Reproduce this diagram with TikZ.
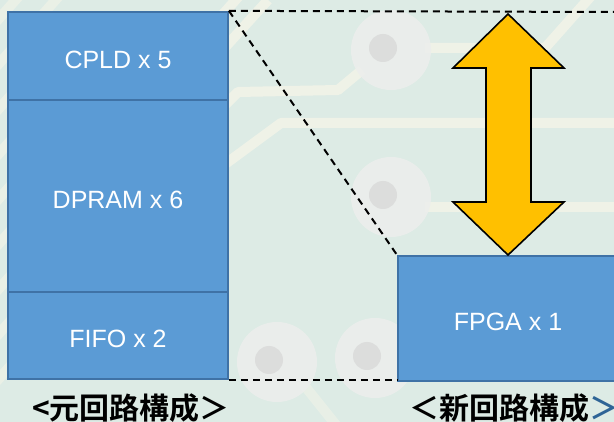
\documentclass[tikz,border=0pt]{standalone}
\usepackage{fontspec}
\setmainfont{Liberation Sans}
\newfontfamily\cjk{Noto Sans CJK JP}[BoldFont={Noto Sans CJK JP Bold}]
\definecolor{bg}{HTML}{DDEBE5}
\definecolor{trace}{HTML}{F3F4E8}
\definecolor{padc}{HTML}{ECEEEC}
\definecolor{holec}{HTML}{DCDDDC}
\definecolor{boxfill}{HTML}{5B9BD5}
\definecolor{boxline}{HTML}{3F72A6}
\definecolor{arrowc}{HTML}{FFC000}
\definecolor{bluegt}{HTML}{2E6496}
\tikzset{
  chip/.style={draw=boxline, line width=1.8pt, fill=boxfill, text=white,
    font=\fontsize{25}{28}\selectfont, inner sep=0pt, minimum width=220pt,
    text height=25pt, text depth=0pt},
  trc/.style={draw=trace, line width=10pt, line join=round, opacity=0.85},
  pad/.style={fill=padc, opacity=0.9},
  hole/.style={fill=holec},
  guide/.style={draw=black, line width=2pt, dash pattern=on 7pt off 5pt},
  lbl/.style={font=\cjk\bfseries\fontsize{30}{32}\selectfont, inner sep=0pt}
}
\begin{document}
\begin{tikzpicture}[x=1pt,y=-1pt]
\useasboundingbox (0,0) rectangle (614,422);
\begin{scope}
\clip (0,0) rectangle (614,422);
\fill[bg] (0,0) rectangle (614,422);
% PCB traces
\foreach \o in {0,45,90,135,180,225,270,315,360}
  \draw[trc, opacity=0.6] (-20,\o+40) -- (60,\o-50);
\draw[trc] (200,40) -- (240,-5);
\draw[trc] (200,75) -- (268,0);
\draw[trc] (190,190) -- (281,123) -- (620,123);
\draw[trc] (190,140) -- (238,92) -- (338,90) -- (362,70);
\draw[trc] (425,48) -- (545,48) -- (592,-5);
\draw[trc] (425,207) -- (620,207);
\draw[trc, opacity=0.5] (300,380) -- (340,430);
% pads
\foreach \px/\py in {391/50, 391/197, 277/362, 375/358}{
  \fill[pad] (\px,\py) circle (40);
  \fill[hole] (\px-8,\py-2) circle (14);
}
\end{scope}
% chips
\node[chip, minimum height=88.5pt] (cpld) at (118,56) {CPLD x 5};
\node[chip, minimum height=192pt] (dpram) at (118,196) {DPRAM x 6};
\node[chip, minimum height=87pt] (fifo) at (118,335.5) {FIFO x 2};
\node[chip, minimum height=125pt] (fpga) at (508,318.5) {FPGA x 1};
% guides
\coordinate (tr) at (614,12);
\draw[guide] (cpld.north east) -- (tr);
\draw[guide] (cpld.north east) -- (fpga.north west);
\draw[guide] (fifo.south east) -- (fpga.west |- fifo.south east);
% double arrow
\filldraw[fill=arrowc, draw=black, line width=1.6pt, line join=miter]
  (508,14) -- (564,68) -- (531,68) -- (531,202) -- (564,202) -- (508,255)
  -- (453,202) -- (486,202) -- (486,68) -- (453,68) -- cycle;
% labels
\node[lbl, anchor=base west] (oldl) at (32,420) {<元回路構成＞};
\node[lbl, anchor=base east] (newl) at (620,420) {＜新回路構成\textcolor{bluegt}{＞}};
\end{tikzpicture}
\end{document}
